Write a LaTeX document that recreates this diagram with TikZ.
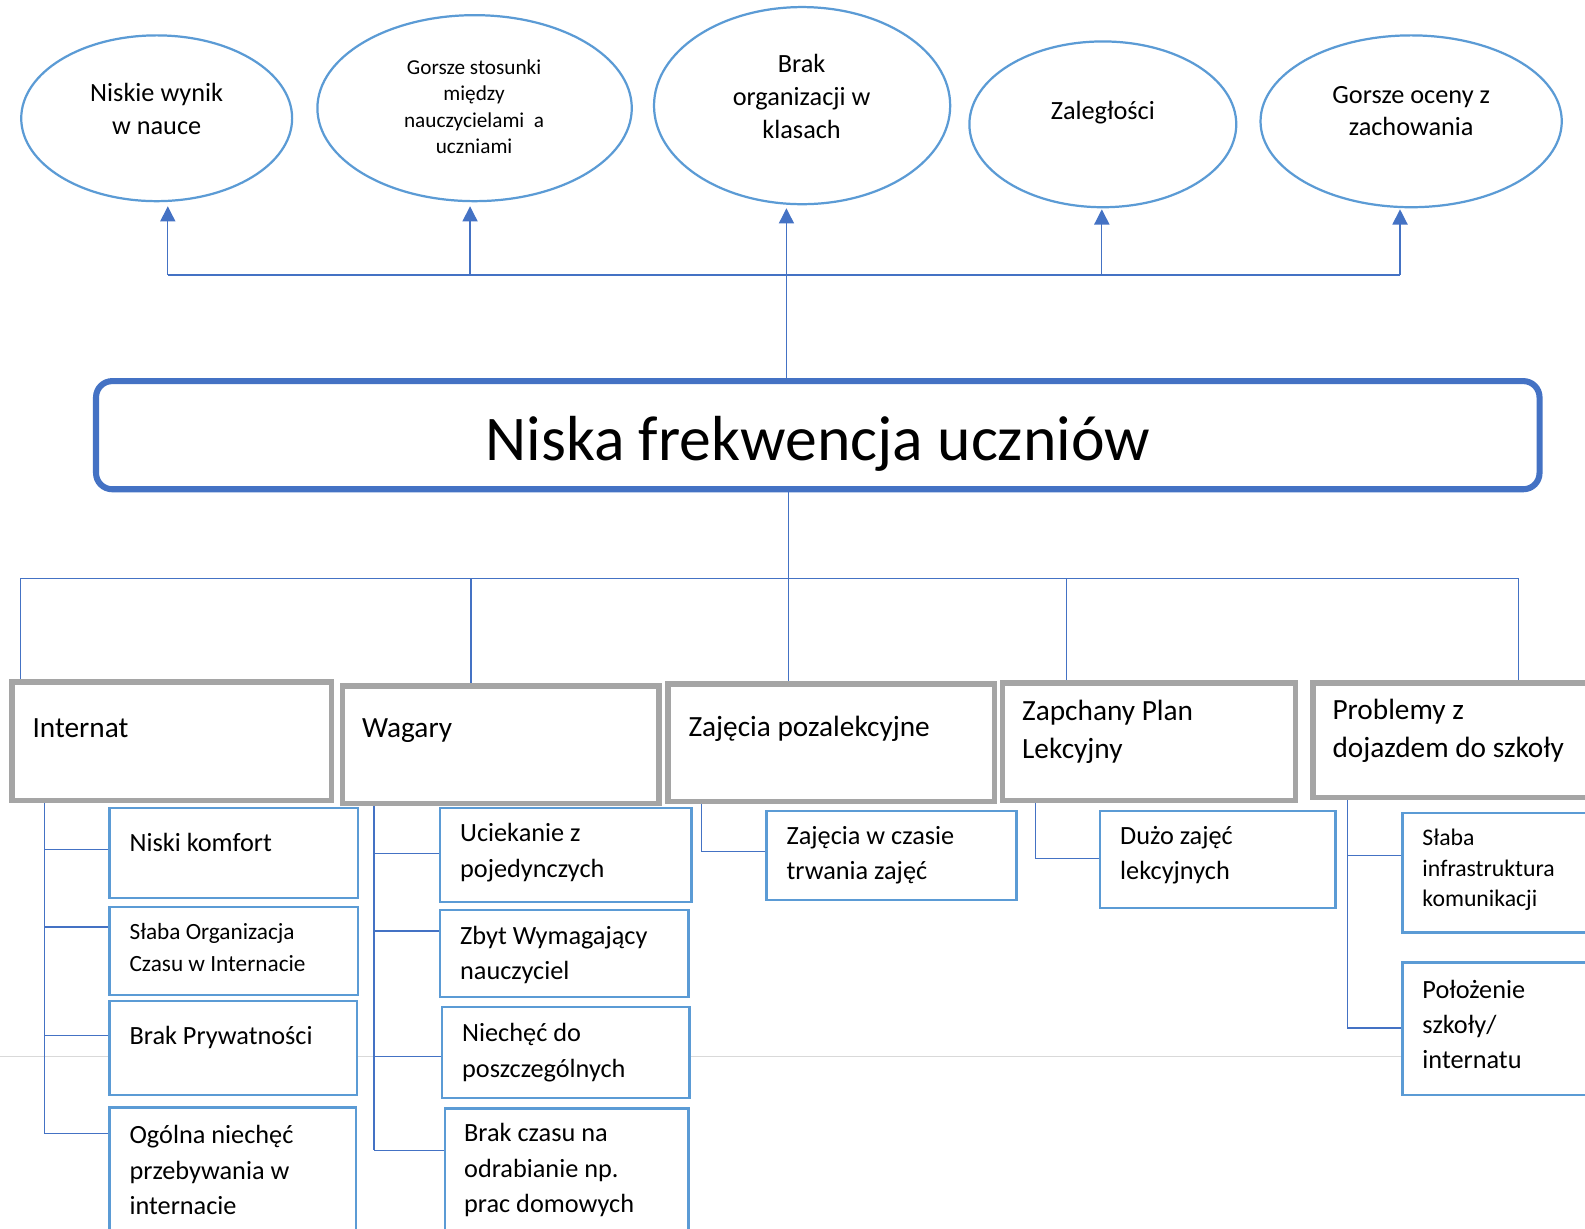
\documentclass[tikz,border=0pt]{standalone}
\usepackage{fontspec}
\setmainfont{Carlito}
\usetikzlibrary{shapes.geometric,arrows.meta}
\definecolor{ellc}{HTML}{5B9BD5}
\definecolor{subc}{HTML}{5B9BD5}
\definecolor{connc}{HTML}{4472C4}
\definecolor{titlec}{HTML}{4472C4}
\definecolor{catc}{HTML}{A5A5A5}
\definecolor{pagec}{HTML}{D9D9D9}
\tikzset{
  ell/.style={ellipse, draw=ellc, line width=2.2pt, inner sep=0pt},
  catbox/.style={rectangle, draw=catc, line width=5.5pt, fill=white, anchor=north west, inner sep=0pt},
  subbox/.style={rectangle, draw=subc, line width=2.6pt, fill=white, anchor=north west, inner sep=0pt},
  titlebox/.style={rectangle, rounded corners=16pt, draw=titlec, line width=6pt, fill=white, anchor=north west, inner sep=0pt, font=\fontsize{63}{75}\selectfont},
  conn/.style={draw=connc, line width=1.2pt},
  arr/.style={conn, -{Triangle[width=15pt,length=15pt]}},
  tcat/.style={font=\fontsize{29}{38}\selectfont, align=left, anchor=west, inner sep=0pt},
  tsub/.style={font=\fontsize{26}{35}\selectfont, align=left, anchor=west, inner sep=0pt},
  tsml/.style={font=\fontsize{23}{31.5}\selectfont, align=left, anchor=west, inner sep=0pt},
  tell/.style={font=\fontsize{26}{33}\selectfont, align=center, inner sep=0pt},
  tells/.style={font=\fontsize{21}{26}\selectfont, align=center, inner sep=0pt},
}
\begin{document}
\begin{tikzpicture}[x=1pt,y=-1pt]
\clip (0,0) rectangle (1568,1215);
\fill[white] (0,0) rectangle (1568,1215);
% page break line
\draw[pagec, line width=1.5pt] (0,1045) -- (1568,1045);

% ellipses
\node[ell, minimum width=268pt, minimum height=164pt] (e1) at (155,117) {};
\node[tell] (e1t) at (155,107.5) {Niskie wynik\\w nauce};
\node[ell, minimum width=311pt, minimum height=184pt] (e2) at (469.5,107) {};
\node[tells] (e2t) at (469,105.5) {Gorsze stosunki\\między\\nauczycielami\ \ a\\uczniami};
\node[ell, minimum width=293pt, minimum height=195pt] (e3) at (793.5,104.5) {};
\node[tell, font=\fontsize{26}{32.5}\selectfont] (e3t) at (793,95.5) {Brak\\organizacji w\\klasach};
\node[ell, minimum width=264pt, minimum height=164pt] (e4) at (1091,123) {};
\node[tell] (e4t) at (1091,111) {Zaległości};
\node[ell, minimum width=298pt, minimum height=170pt] (e5) at (1396,120) {};
\node[tell, font=\fontsize{26}{32}\selectfont] (e5t) at (1396,110) {Gorsze oceny z\\zachowania};

% title
\node[titlebox, minimum width=1428pt, minimum height=107pt] (title) at (92,374) {\raisebox{-25pt}[0pt][0pt]{Niska frekwencja uczniów}};

% top connectors
\coordinate (ta) at (166,272);
\coordinate (tb) at (465,272);
\coordinate (tc) at (778,272);
\coordinate (td) at (1090,272);
\coordinate (te) at (1385,272);
\draw[conn] (ta) -- (te);
\draw[arr, shorten >=4pt] (ta) -- (ta |- e1.south);
\draw[arr, shorten >=4pt] (tb) -- (tb |- e2.south);
\draw[arr, shorten >=3pt] (title.north -| tc) -- (tc |- e3.south);
\draw[arr, shorten >=1pt] (td) -- (td |- e4.south);
\draw[arr, shorten >=1pt] (te) -- (te |- e5.south);

% category boxes
\node[catbox, minimum width=316pt, minimum height=117pt] (int) at (9,672) {};
\node[tcat] (intt) at (32,720) {Internat};
\node[catbox, minimum width=313pt, minimum height=116pt] (wag) at (336,676) {};
\node[tcat] (wagt) at (358,723) {Wagary};
\node[catbox, minimum width=323pt, minimum height=116pt] (zaj) at (658,674) {};
\node[tcat] (zajt) at (681,721) {Zajęcia pozalekcyjne};
\node[catbox, minimum width=290pt, minimum height=116pt] (zap) at (989,673) {};
\node[tcat] (zapt) at (1011,724) {Zapchany Plan\\Lekcyjny};
\node[catbox, minimum width=300pt, minimum height=113pt] (pro) at (1296,673) {};
\node[tcat] (prot) at (1318,723) {Problemy z\\dojazdem do szkoły};

% bottom bus
\coordinate (ba) at (20,572);
\coordinate (bb) at (466,572);
\coordinate (bc) at (780,572);
\coordinate (bd) at (1055,572);
\coordinate (be) at (1502,572);
\draw[conn] (title.south -| bc) -- (bc);
\draw[conn] (ba) -- (be);
\draw[conn] (ba) -- (int.north -| ba);
\draw[conn] (bb) -- (wag.north -| bb);
\draw[conn] (bc) -- (zaj.north -| bc);
\draw[conn] (bd) -- (zap.north -| bd);
\draw[conn] (be) -- (pro.north -| be);

% Internat subs
\node[subbox, minimum width=246pt, minimum height=89pt] (nk) at (107,798) {};
\node[tsub] (nkt) at (128,833) {Niski komfort};
\node[subbox, minimum width=246pt, minimum height=87pt] (so) at (107,896) {};
\node[tsml] (sot) at (128,937) {Słaba Organizacja\\Czasu w Internacie};
\node[subbox, minimum width=245pt, minimum height=93pt] (bp) at (107,989) {};
\node[tsub] (bpt) at (128,1026) {Brak Prywatności};
\node[subbox, minimum width=244pt, minimum height=150pt] (on) at (107,1094) {};
\node[tsub] (ont) at (128,1157.5) {Ogólna niechęć\\przebywania w\\internacie};
\coordinate (s1) at (44,1121);
\draw[conn] (int.south -| s1) -- (s1);
\draw[conn] (s1 |- 0,840) -- (nk.west |- 0,840);
\draw[conn] (s1 |- 0,917) -- (so.west |- 0,917);
\draw[conn] (s1 |- 0,1024) -- (bp.west |- 0,1024);
\draw[conn] (s1) -- (on.west |- s1);

% Wagary subs
\node[subbox, minimum width=249pt, minimum height=93pt] (uz) at (434,798) {};
\node[tsub] (uzt) at (455,843.5) {Uciekanie z\\pojedynczych};
\node[subbox, minimum width=246pt, minimum height=86pt] (zw) at (434,899) {};
\node[tsub] (zwt) at (455,945) {Zbyt Wymagający\\nauczyciel};
\node[subbox, minimum width=245pt, minimum height=90pt] (nd) at (436,995) {};
\node[tsub] (ndt) at (457,1041.5) {Niechęć do\\poszczególnych};
\node[subbox, minimum width=241pt, minimum height=150pt] (bcz) at (439,1095) {};
\node[tsub] (bczt) at (459,1157.5) {Brak czasu na\\odrabianie np.\\prac domowych};
\coordinate (s2) at (370,1138);
\draw[conn] (wag.south -| s2) -- (s2);
\draw[conn] (s2 |- 0,844) -- (uz.west |- 0,844);
\draw[conn] (s2 |- 0,921) -- (zw.west |- 0,921);
\draw[conn] (s2 |- 0,1045) -- (nd.west |- 0,1045);
\draw[conn] (s2) -- (bcz.west |- s2);

% Zajecia sub
\node[subbox, minimum width=247pt, minimum height=88pt] (zc) at (757,801) {};
\node[tsub] (zct) at (778,846) {Zajęcia w czasie\\trwania zajęć};
\coordinate (s3) at (694,842);
\draw[conn] (zaj.south -| s3) -- (s3) -- (zc.west |- s3);

% Zapchany sub
\node[subbox, minimum width=233pt, minimum height=96pt] (dz) at (1087,801) {};
\node[tsub] (dzt) at (1108,846) {Dużo zajęć\\lekcyjnych};
\coordinate (s4) at (1024,849);
\draw[conn] (zap.south -| s4) -- (s4) -- (dz.west |- s4);

% Problemy subs
\node[subbox, minimum width=220pt, minimum height=118pt] (si) at (1386,803) {};
\node[tsml, font=\fontsize{23.5}{30.5}\selectfont] (sit) at (1407,860.5) {Słaba\\infrastruktura\\komunikacji};
\node[subbox, minimum width=220pt, minimum height=131pt] (ps) at (1386,951) {};
\node[tsub, font=\fontsize{26}{34.5}\selectfont] (pst) at (1407,1013.5) {Położenie\\szkoły/\\internatu};
\coordinate (s5) at (1333,1017);
\draw[conn] (pro.south -| s5) -- (s5);
\draw[conn] (s5 |- 0,846) -- (si.west |- 0,846);
\draw[conn] (s5) -- (ps.west |- s5);
\end{tikzpicture}
\end{document}
